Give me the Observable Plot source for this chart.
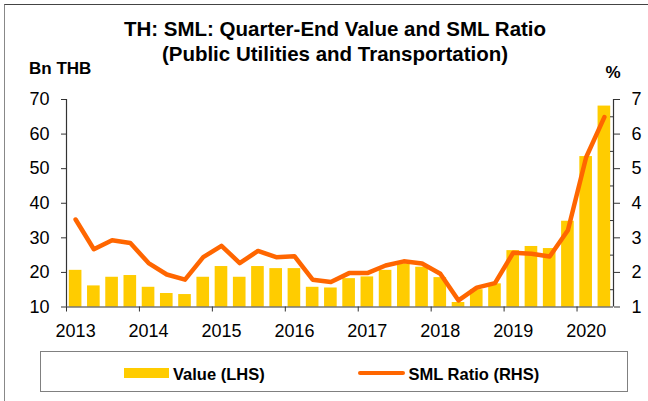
<!DOCTYPE html>
<html><head><meta charset="utf-8">
<script src="https://cdn.jsdelivr.net/npm/d3@7"></script>
<script src="https://cdn.jsdelivr.net/npm/@observablehq/plot@0.6"></script>
<style>
body{margin:0;background:#fff;}
#wrap{position:relative;width:648px;height:401px;overflow:hidden;font-family:"Liberation Sans",Arial,sans-serif;color:#000;}
#frame{position:absolute;left:4px;top:3.5px;width:700px;height:500px;border-top:1.5px solid #444;border-left:1.5px solid #888;}
.t{position:absolute;white-space:nowrap;font-weight:bold;}
#title{left:0;width:670px;top:16.3px;text-align:center;font-size:20.5px;line-height:25px;}
#lhs{left:29px;top:58.6px;font-size:17px;line-height:20px;}
#rhs{left:605.5px;top:63px;font-size:17px;line-height:20px;}
#chart{position:absolute;left:0;top:0;}
#legend{position:absolute;left:39.5px;top:350.5px;width:588px;height:41px;border:1px solid #808080;box-sizing:border-box;}
.sw{position:absolute;}
.lt{position:absolute;font-weight:bold;font-size:16.5px;line-height:20px;white-space:nowrap;}
</style></head><body>
<div id="wrap">
  <div id="frame"></div>
  <div id="chart"></div>
  <div id="title" class="t">TH: SML: Quarter-End Value and SML Ratio<br>(Public Utilities and Transportation)</div>
  <div id="lhs" class="t">Bn THB</div>
  <div id="rhs" class="t">%</div>
  <div id="legend"></div>
</div>
<script>
// ---- data ----
const quarters = [
  "2013Q1","2013Q2","2013Q3","2013Q4",
  "2014Q1","2014Q2","2014Q3","2014Q4",
  "2015Q1","2015Q2","2015Q3","2015Q4",
  "2016Q1","2016Q2","2016Q3","2016Q4",
  "2017Q1","2017Q2","2017Q3","2017Q4",
  "2018Q1","2018Q2","2018Q3","2018Q4",
  "2019Q1","2019Q2","2019Q3","2019Q4",
  "2020Q1","2020Q2"
];
const valueBn = [
  20.6,16.1,18.6,19.1,
  15.7,13.9,13.6,18.6,
  21.7,18.6,21.7,21.1,
  21.1,15.7,15.5,18.2,
  18.7,20.6,22.5,21.5,
  18.5,11.3,15.0,16.7,
  26.3,27.5,26.9,34.8,
  53.5,68.1
];
const smlRatio = [
  3.53,2.67,2.93,2.85,
  2.27,1.94,1.79,2.44,
  2.77,2.27,2.62,2.44,
  2.47,1.79,1.72,1.98,
  1.98,2.20,2.32,2.26,
  1.96,1.19,1.56,1.69,
  2.57,2.54,2.46,3.22,
  5.33,6.49
];
const yearTicks = [2013,2014,2015,2016,2017,2018,2019,2020];
const lhsTicks = [10,20,30,40,50,60,70];
const rhsTicks = [1,2,3,4,5,6,7];
const rhsMinor = [1.5,2.5,3.5,4.5,5.5,6.5];
const seriesNames = ["Value (LHS)","SML Ratio (RHS)"];

const barColor = "#FFCC00";
const lineColor = "#FF6600";

// ---- build table ----
const lhsDomain = [lhsTicks[0], lhsTicks[lhsTicks.length-1]];
const rhsDomain = [rhsTicks[0], rhsTicks[rhsTicks.length-1]];
const k = (lhsDomain[1]-lhsDomain[0])/(rhsDomain[1]-rhsDomain[0]);
const toL = r => lhsDomain[0] + (r - rhsDomain[0]) * k;
const toR = v => rhsDomain[0] + (v - lhsDomain[0]) / k;

const data = quarters.map((s,i) => {
  const yr = +s.slice(0,4), q = +s.slice(5);
  const x1 = yr + (q-1)/4;
  return {q: s, x1, x2: x1 + 0.25, xm: x1 + 0.125, value: valueBn[i], ratio: smlRatio[i]};
});
const xDomain = [data[0].x1, data[data.length-1].x2];

const axisColor = "#333";
const chart = Plot.plot({
  width: 648, height: 401,
  marginTop: 99, marginBottom: 94.5, marginLeft: 66, marginRight: 35,
  style: {fontFamily: '"Liberation Sans", Arial, sans-serif', fontSize: "18px", color: "#000", background: "transparent"},
  x: {domain: xDomain},
  y: {domain: lhsDomain},
  marks: [
    Plot.rectY(data, {x1: "x1", x2: "x2", y1: lhsDomain[0], y2: "value", fill: barColor, insetLeft: 2.8, insetRight: 2.8}),
    Plot.lineY(data, {x: "xm", y: d => toL(d.ratio), stroke: lineColor, strokeWidth: 4.5, strokeLinecap: "round", strokeLinejoin: "round"}),
    // axis lines
    Plot.ruleY([lhsDomain[0]], {stroke: axisColor, strokeWidth: 1.2}),
    Plot.ruleX([xDomain[0]], {stroke: axisColor, strokeWidth: 1.2}),
    Plot.ruleX([xDomain[1]], {stroke: axisColor, strokeWidth: 1.2}),
    // x ticks at year boundaries
    Plot.axisX(yearTicks, {tickSize: 5, tickFormat: () => "", stroke: axisColor, label: null}),
    // x labels centred on first quarter of each year
    Plot.axisX(yearTicks.map(y => y + 0.125), {tickSize: 0, tickPadding: 17, tickFormat: d => String(Math.floor(d)), label: null, fill: "#000"}),
    // left axis
    Plot.axisY(lhsTicks, {anchor: "left", tickSize: 5, tickPadding: 12, tickFormat: d => String(d), label: null, stroke: axisColor, fill: "#000"}),
    // right axis
    Plot.axisY(rhsTicks.map(toL), {anchor: "right", tickSize: 6, tickPadding: 12, tickFormat: d => String(Math.round(toR(d))), label: null, stroke: axisColor, fill: "#000"}),
    Plot.axisY(rhsMinor.map(toL), {anchor: "right", tickSize: -4, tickFormat: () => "", label: null, stroke: axisColor})
  ]
});
document.getElementById("chart").appendChild(chart);

// ---- legend ----
const legend = document.getElementById("legend");
const L0 = 39.5, T0 = 350.5;
function add(el, css){ Object.assign(el.style, css); legend.appendChild(el); }
const sw1 = document.createElement("div"); sw1.className = "sw";
add(sw1, {left: (122.7-L0)+"px", top: (366.8-T0)+"px", width: "45.6px", height: "10.5px", background: barColor});
const t1 = document.createElement("div"); t1.className = "lt"; t1.textContent = seriesNames[0];
add(t1, {left: (172-L0)+"px", top: (362.6-T0)+"px"});
const sw2 = document.createElement("div"); sw2.className = "sw";
add(sw2, {left: (357-L0)+"px", top: (369.5-T0)+"px", width: "47px", height: "4.5px", background: lineColor, borderRadius: "2.25px"});
const t2 = document.createElement("div"); t2.className = "lt"; t2.textContent = seriesNames[1];
add(t2, {left: (407.5-L0)+"px", top: (362.6-T0)+"px"});
</script>
</body></html>
